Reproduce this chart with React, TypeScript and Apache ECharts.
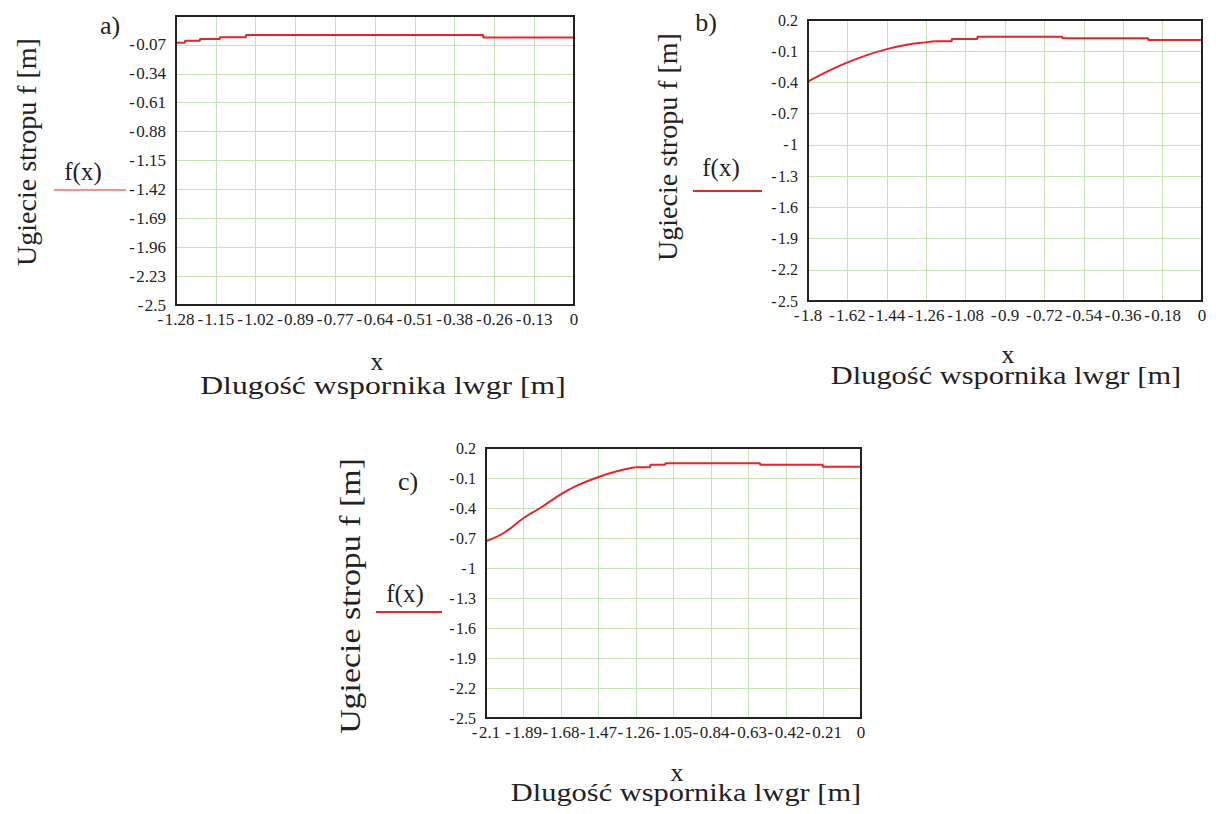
import React, { useEffect, useRef } from "react";
import * as echarts from "echarts";

// ---- Panel a) ----
const A_X_LABELS = ["-1.28", "-1.15", "-1.02", "-0.89", "-0.77", "-0.64", "-0.51", "-0.38", "-0.26", "-0.13", "0"];
const A_Y_LABELS = ["-2.5", "-2.23", "-1.96", "-1.69", "-1.42", "-1.15", "-0.88", "-0.61", "-0.34", "-0.07", ""];
const A_STEP_X = [-1.28, -1.251, -1.251, -1.203, -1.203, -1.139, -1.139, -1.055, -1.055, -0.292, -0.292, 0];
const A_STEP_Y = [-0.049, -0.049, -0.031, -0.031, -0.015, -0.015, 0.001, 0.001, 0.022, 0.022, 0.0, 0.0];

// ---- Panel b) ----
const B_X_LABELS = ["-1.8", "-1.62", "-1.44", "-1.26", "-1.08", "-0.9", "-0.72", "-0.54", "-0.36", "-0.18", "0"];
const B_Y_LABELS = ["-2.5", "-2.2", "-1.9", "-1.6", "-1.3", "-1", "-0.7", "-0.4", "-0.1", "0.2"];
const B_CURVE_X = [-1.8, -1.713, -1.622, -1.531, -1.444, -1.348, -1.262, -1.219];
const B_CURVE_Y = [-0.393, -0.297, -0.21, -0.137, -0.082, -0.038, -0.015, -0.005];
const B_STEP_X = [-1.219, -1.143, -1.143, -1.026, -1.026, -0.638, -0.638, -0.246, -0.246, 0];
const B_STEP_Y = [-0.005, -0.005, 0.017, 0.017, 0.04, 0.04, 0.024, 0.024, 0.008, 0.008];

// ---- Panel c) ----
const C_X_LABELS = ["-2.1", "-1.89", "-1.68", "-1.47", "-1.26", "-1.05", "-0.84", "-0.63", "-0.42", "-0.21", "0"];
const C_Y_LABELS = ["-2.5", "-2.2", "-1.9", "-1.6", "-1.3", "-1", "-0.7", "-0.4", "-0.1", "0.2"];
const C_CURVE_X = [-2.1, -2.001, -1.889, -1.796, -1.684, -1.591, -1.469, -1.367, -1.264];
const C_CURVE_Y = [-0.733, -0.65, -0.5, -0.4, -0.267, -0.177, -0.09, -0.033, 0.007];
const C_STEP_X = [-1.264, -1.18, -1.18, -1.096, -1.096, -0.565, -0.565, -0.214, -0.214, 0];
const C_STEP_Y = [0.007, 0.007, 0.033, 0.033, 0.047, 0.047, 0.033, 0.033, 0.013, 0.013];

const Y_TITLE = "Ugiecie stropu f [m]";
const X_TITLE = "Dlugość wspornika lwgr [m]";

const FONT = "Liberation Serif";
const RED = "#e3262b";
const GRIDC = "#c9e2b6";

function fmt(labels: string[], min: number, interval: number) {
  return (v: number) => {
    const i = Math.round((v - min) / interval);
    const s = labels[i] ?? "";
    return s.replace(/^-/, "-\u200A");
  };
}

const pairs = (xs: number[], ys: number[]) => xs.map((x, k) => [x, ys[k]]);

export default function App() {
  const ref = useRef<HTMLDivElement>(null);
  useEffect(() => {
    document.body.style.margin = "0";
    const chart = echarts.init(ref.current!, null, { renderer: "svg" });

    const panels = [
      { grid: { left: 176, top: 16, width: 398, height: 289 }, xfs: 17, yfs: 17, xMin: -1.28, xInt: 0.128, yMin: -2.5, yMax: 0.2, yInt: 0.27, xl: A_X_LABELS, yl: A_Y_LABELS, curve: null as any, steps: pairs(A_STEP_X, A_STEP_Y) },
      { grid: { left: 808, top: 20, width: 394, height: 281 }, xfs: 17, yfs: 16, xMin: -1.8, xInt: 0.18, yMin: -2.5, yMax: 0.2, yInt: 0.3, xl: B_X_LABELS, yl: B_Y_LABELS, curve: pairs(B_CURVE_X, B_CURVE_Y), steps: pairs(B_STEP_X, B_STEP_Y) },
      { grid: { left: 486, top: 448, width: 375, height: 270 }, xfs: 17, yfs: 16, xMin: -2.1, xInt: 0.21, yMin: -2.5, yMax: 0.2, yInt: 0.3, xl: C_X_LABELS, yl: C_Y_LABELS, curve: pairs(C_CURVE_X, C_CURVE_Y), steps: pairs(C_STEP_X, C_STEP_Y) },
    ];

    const text = (t: string, x: number, y: number, size: number, extra: any = {}) => ({
      type: "text",
      x,
      y,
      ...extra,
      style: { text: t, fontFamily: FONT, fontSize: size, fill: "#222", textAlign: "center", textVerticalAlign: "middle" },
    });
    const redLine = (x1: number, x2: number, y: number, w: number) => ({
      type: "line",
      shape: { x1, y1: y, x2, y2: y },
      style: { stroke: RED, lineWidth: w },
    });
    const frame = (g: any) => ({
      type: "rect",
      z: 100,
      shape: { x: g.left, y: g.top, width: g.width, height: g.height },
      style: { fill: "none", stroke: "#222", lineWidth: 2 },
    });

    const series: any[] = [];
    panels.forEach((p, i) => {
      if (p.curve) {
        series.push({
          type: "line", xAxisIndex: i, yAxisIndex: i, showSymbol: false, smooth: 0.4,
          lineStyle: { color: RED, width: 2 }, data: p.curve, z: 5,
        });
      }
      series.push({
        type: "line", xAxisIndex: i, yAxisIndex: i, showSymbol: false,
        lineStyle: { color: RED, width: 2 }, data: p.steps, z: 5,
      });
    });

    chart.setOption({
      animation: false,
      grid: panels.map((p) => ({ ...p.grid, show: true, borderColor: "#222", borderWidth: 2, backgroundColor: "#fff" })),
      xAxis: panels.map((p, i) => ({
        type: "value",
        gridIndex: i,
        min: p.xMin,
        max: 0,
        interval: p.xInt,
        axisLine: { show: false },
        axisTick: { show: false },
        splitLine: { show: true, lineStyle: { color: GRIDC, width: 1 } },
        axisLabel: { fontFamily: FONT, fontSize: p.xfs, color: "#222", margin: 6, showMinLabel: true, showMaxLabel: true, formatter: fmt(p.xl, p.xMin, p.xInt) },
      })),
      yAxis: panels.map((p, i) => ({
        type: "value",
        gridIndex: i,
        min: p.yMin,
        max: p.yMax,
        interval: p.yInt,
        axisLine: { show: false },
        axisTick: { show: false },
        splitLine: { show: true, lineStyle: { color: GRIDC, width: 1 } },
        axisLabel: { fontFamily: FONT, fontSize: p.yfs, color: "#222", margin: 10, showMinLabel: true, showMaxLabel: true, formatter: fmt(p.yl, p.yMin, p.yInt) },
      })),
      series,
      graphic: [
        ...panels.map((p) => frame(p.grid)),
        // panel a
        text("a)", 110, 25, 26),
        text(Y_TITLE, 26, 152, 28, { rotation: Math.PI / 2 }),
        text("f(x)", 83, 171, 25),
        redLine(54, 126, 190, 1),
        text("x", 377, 361, 26),
        text(X_TITLE, 383, 385, 26, { scaleX: 1.22 }),
        // panel b
        text("b)", 706, 22, 26),
        text(Y_TITLE, 667, 147, 28, { rotation: Math.PI / 2 }),
        text("f(x)", 721, 167, 25),
        redLine(693, 762, 191, 2),
        text("x", 1008, 354, 26),
        text(X_TITLE, 1006, 375, 26, { scaleX: 1.17 }),
        // panel c
        text("c)", 408, 481, 26),
        text(Y_TITLE, 350, 596, 30, { rotation: Math.PI / 2, scaleX: 1.13 }),
        text("f(x)", 405, 593, 25),
        redLine(376, 442, 612, 2),
        text("x", 677, 772, 26),
        text(X_TITLE, 686, 792, 26, { scaleX: 1.17 }),
      ],
    });
    return () => chart.dispose();
  }, []);
  return <div ref={ref} style={{ width: 1216, height: 814, background: "#fff" }} />;
}
